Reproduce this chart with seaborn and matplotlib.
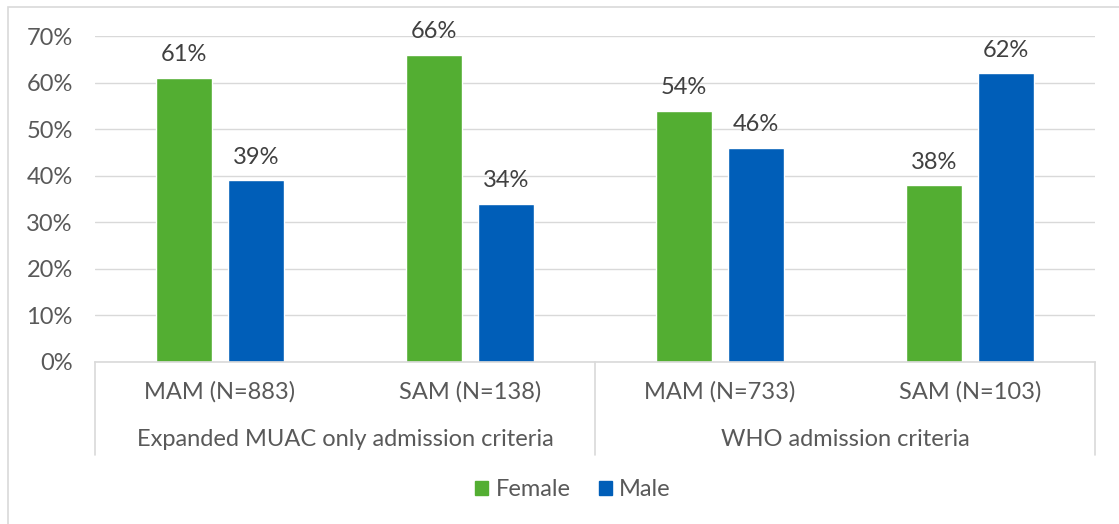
import pandas as pd
import matplotlib.pyplot as plt
import seaborn as sns
from matplotlib.patches import Rectangle

# data
categories = ["MAM (N=883)", "SAM (N=138)", "MAM (N=733)", "SAM (N=103)"]
groups = ["Expanded MUAC only admission criteria", "WHO admission criteria"]
female = [61, 66, 54, 38]
male = [39, 34, 46, 62]
y_ticks = [0, 10, 20, 30, 40, 50, 60, 70]

df = pd.DataFrame({
    "category": categories * 2,
    "sex": ["Female"] * 4 + ["Male"] * 4,
    "value": female + male,
})

sns.set_theme(style="white")
plt.rcParams["font.family"] = ["Lato", "DejaVu Sans"]

fs = 17
text_col = "#595959"
grid_col = "#D9D9D9"
palette = {"Female": "#53AE32", "Male": "#005EB8"}

fig = plt.figure(figsize=(11.19, 5.24), dpi=100)
ax = fig.add_axes([95 / 1119, 162 / 524, 1000 / 1119, 326 / 524])

# chart border (cut off on the right and bottom in the original)
fig.patches.append(Rectangle((8 / 1119, -0.1), 1.2, (524 - 7) / 524 + 0.1,
                             transform=fig.transFigure, fill=False,
                             edgecolor=grid_col, linewidth=1.2))

sns.barplot(data=df, x="category", y="value", hue="sex", palette=palette,
            width=0.576, gap=0.222, ax=ax, legend=False, saturation=1)

for cont in ax.containers:
    ax.bar_label(cont, labels=[f"{v:.0f}%" for v in cont.datavalues],
                 padding=9, fontsize=fs, color="#404040")

ax.set_ylim(0, 70)
ax.set_xlim(-0.5, 3.5)
ax.set_yticks(y_ticks)
ax.set_yticklabels([f"{t}%" for t in y_ticks], fontsize=fs, color=text_col)
ax.yaxis.grid(True, color=grid_col, linewidth=1)
ax.set_axisbelow(True)
for s in ["top", "right", "left"]:
    ax.spines[s].set_visible(False)
ax.spines["bottom"].set_color(grid_col)
ax.spines["bottom"].set_linewidth(1.2)
ax.tick_params(axis="both", length=0)
ax.tick_params(axis="y", pad=16)
ax.set_xticks(range(len(categories)))
ax.set_xticklabels(categories, fontsize=fs, color=text_col)
ax.tick_params(axis="x", pad=14)
ax.set_xlabel("")
ax.set_ylabel("")

# group labels and separators under the axis
tr = ax.get_xaxis_transform()
px = 1 / 326
for i, g in enumerate(groups):
    ax.text(0.5 + 2 * i, -78 * px, g, transform=tr, ha="center", va="center",
            fontsize=fs, color=text_col)
for xs in [-0.5, 1.5, 3.5]:
    ax.plot([xs, xs], [0, -93 * px], transform=tr, color=grid_col,
            linewidth=1.2, clip_on=False)

# legend
handles = [Rectangle((0, 0), 1, 1, color=palette[k]) for k in ["Female", "Male"]]
fig.legend(handles, ["Female", "Male"], loc="center", ncol=2,
           bbox_to_anchor=(573 / 1119, 1 - 490 / 524), frameon=False,
           fontsize=fs, labelcolor=text_col, handlelength=0.55,
           handleheight=0.55, handletextpad=0.3, columnspacing=1.2)

fig.savefig("out.png", dpi=100)
